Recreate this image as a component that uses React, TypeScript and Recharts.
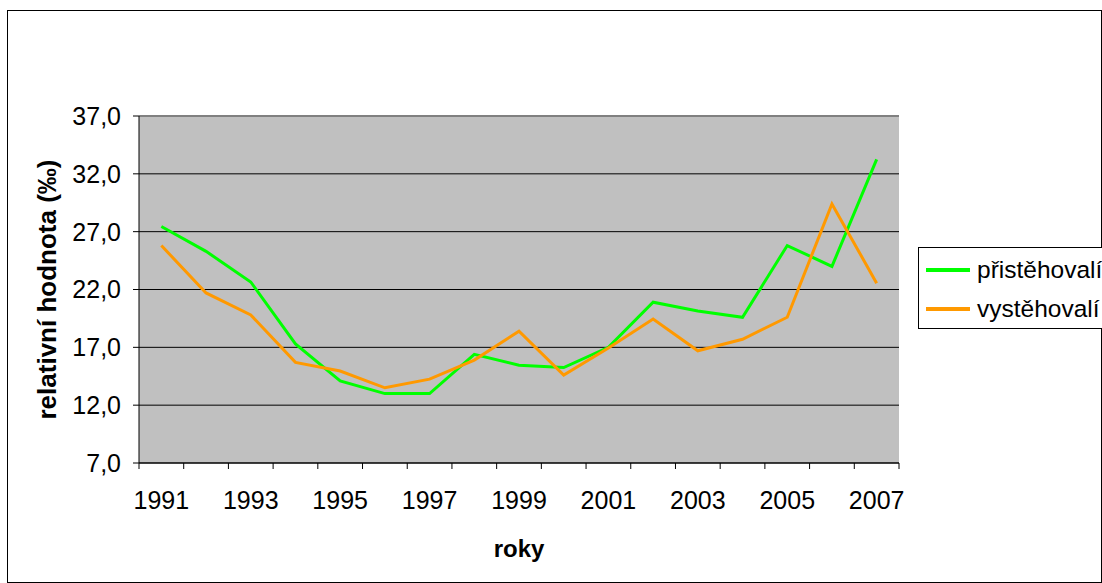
import { LineChart, Line, XAxis, YAxis, CartesianGrid, ReferenceLine, Legend } from 'recharts';

const years = ['1991', '1992', '1993', '1994', '1995', '1996', '1997', '1998', '1999', '2000', '2001', '2002', '2003', '2004', '2005', '2006', '2007'];
const immigrants = [27.45, 25.3, 22.65, 17.3, 14.1, 13.0, 13.0, 16.4, 15.45, 15.25, 17.0, 20.9, 20.15, 19.6, 25.8, 24.0, 33.25];
const emigrants = [25.8, 21.7, 19.8, 15.7, 14.95, 13.5, 14.25, 15.9, 18.4, 14.6, 16.95, 19.45, 16.7, 17.7, 19.6, 29.4, 22.55];
const yTicks = [7, 12, 17, 22, 27, 32, 37];

const data = years.map((year, i) => ({ year, in: immigrants[i], out: emigrants[i] }));

// plot area (px)
const PLOT_LEFT = 139;
const PLOT_RIGHT = 899;
const BAND = (PLOT_RIGHT - PLOT_LEFT) / years.length;

const FONT = '"Liberation Sans", Arial, sans-serif';

// category ticks sit between the years, labels on every other year
const YearTick = (props: any) => {
    const { x, y, index, payload } = props;
    const h = BAND / 2;
    return (
        <g>
            <line x1={x - h} y1={y} x2={x - h} y2={y + 6} stroke="#000" />
            {index === years.length - 1 && <line x1={x + h} y1={y} x2={x + h} y2={y + 6} stroke="#000" />}
            {index % 2 === 0 && (
                <text x={x} y={y + 45.5} textAnchor="middle" fontSize={25} fill="#000">
                    {payload.value}
                </text>
            )}
        </g>
    );
};

const LegendBox = (props: any) => {
    const items = props.payload || [];
    return (
        <div style={{ border: '1px solid #000', background: '#fff', paddingTop: 2, width: 200, height: 78, fontFamily: FONT }}>
            {items.map((it: any) => (
                <div key={it.value} style={{ display: 'flex', alignItems: 'center', height: 39 }}>
                    <svg width={44} height={4} style={{ marginLeft: 7 }}>
                        <line x1={0} y1={2} x2={44} y2={2} stroke={it.color} strokeWidth={4} />
                    </svg>
                    <span style={{ marginLeft: 7, fontSize: 24.5, color: '#000', whiteSpace: 'nowrap' }}>{it.value}</span>
                </div>
            ))}
        </div>
    );
};

export default function App() {
    return (
        <div style={{ position: 'absolute', left: 0, top: 0, width: 1102, height: 583, overflow: 'hidden', background: '#fff', fontFamily: FONT }}>
            <div style={{ position: 'absolute', left: 7, top: 10, width: 1095, height: 573, border: '1px solid #000', boxSizing: 'border-box' }} />
            <div style={{ position: 'absolute', left: 0, top: 0 }}>
                <LineChart width={1102} height={583} data={data} margin={{ top: 116, right: 203, bottom: 0, left: 0 }}>
                    <CartesianGrid vertical={false} fill="#C0C0C0" fillOpacity={1} stroke="#000" strokeWidth={1} />
                    <XAxis
                        dataKey="year"
                        interval={0}
                        height={120}
                        tickLine={false}
                        tickSize={0}
                        tickMargin={0}
                        axisLine={{ stroke: '#000' }}
                        padding={{ left: BAND / 2, right: BAND / 2 }}
                        tick={YearTick}
                        label={{ value: 'roky', position: 'insideBottom', offset: 26, fontSize: 24, fontWeight: 'bold', fill: '#000' }}
                    />
                    <YAxis
                        width={PLOT_LEFT}
                        domain={[7, 37]}
                        ticks={yTicks}
                        interval={0}
                        tickSize={6}
                        tickMargin={12}
                        tickLine={{ stroke: '#000' }}
                        axisLine={{ stroke: '#000' }}
                        tick={{ fill: '#000', fontSize: 25 }}
                        tickFormatter={(v: number) => v.toFixed(1).replace('.', ',')}
                        label={{ value: 'relativní hodnota (‰)', angle: -90, position: 'insideLeft', offset: 47, fontSize: 26, fontWeight: 'bold', fill: '#000', style: { textAnchor: 'middle' } }}
                    />
                    <YAxis yAxisId="frame" orientation="right" width={0} domain={[7, 37]} tick={false} tickLine={false} axisLine={{ stroke: '#808080', strokeWidth: 2 }} />
                    <ReferenceLine y={37} stroke="#808080" strokeWidth={2} />
                    <Legend
                        layout="vertical"
                        align="center"
                        verticalAlign="middle"
                        content={LegendBox}
                        wrapperStyle={{ left: 918, top: 247, width: 200 }}
                    />
                    <Line name="přistěhovalí" dataKey="in" stroke="#00FF00" strokeWidth={3} dot={false} type="linear" isAnimationActive={false} />
                    <Line name="vystěhovalí" dataKey="out" stroke="#FF9900" strokeWidth={3} dot={false} type="linear" isAnimationActive={false} />
                </LineChart>
            </div>
        </div>
    );
}
